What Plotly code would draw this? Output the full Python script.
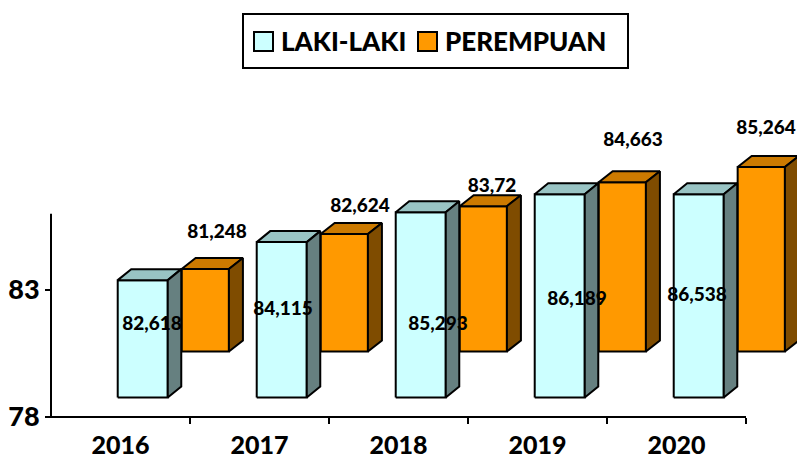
import plotly.graph_objects as go

# ---------------- data ----------------
YEARS = ["2016", "2017", "2018", "2019", "2020"]
LAKI = [82.618, 84.115, 85.293, 86.189, 86.538]
PEREMPUAN = [81.248, 82.624, 83.72, 84.663, 85.264]
LAKI_TEXT = ["82,618", "84,115", "85,293", "86,189", "86,538"]
PEREMPUAN_TEXT = ["81,248", "82,624", "83,72", "84,663", "85,264"]
Y_TICKS = [78, 83]
Y_MIN, Y_MAX = 78, 86

# ---------------- layout geometry ----------------
W, H = 797, 462
L, R, T, B = 48, 0, 100, 42
PLOT_W = W - L - R
PLOT_H = H - T - B
PX_PER_CAT = 139.0
PX_PER_UNIT = 25.4
EPS_X = 3 / PX_PER_CAT
EPS_Y = 3 / PX_PER_UNIT
X_RANGE = [-0.5 - EPS_X, -0.5 - EPS_X + PLOT_W / PX_PER_CAT]
Y_RANGE = [Y_MIN - EPS_Y, Y_MIN - EPS_Y + PLOT_H / PX_PER_UNIT]

FONT = "Lato"
WEIGHT = 900

# pseudo-3D style per series: (left, right) offset from category, base lift, depth
STYLE = {
    "laki": dict(left=-0.02, right=0.34, lift=0.77, dx=13.5 / PX_PER_CAT, dy=11 / PX_PER_UNIT,
                 front="#CCFFFF", top="#99C4C4", side="#668080"),
    "per": dict(left=0.44, right=0.78, lift=2.58, dx=14 / PX_PER_CAT, dy=11 / PX_PER_UNIT,
                front="#FF9900", top="#CC7A00", side="#7F4C00"),
}

# label anchors (layout positions, relative to category index / axis units)
LAKI_LBL_DX = [0.227, 0.169, 0.284, 0.284, 0.147]
LAKI_LBL_Y = [81.62, 82.21, 81.62, 82.61, 82.76]
PER_LBL_DX = [0.694, 0.723, 0.673, 0.687, 0.644]
PER_LBL_Y = [85.24, 86.27, 87.06, 88.87, 89.34]


def bar_faces(values, st):
    fx, fy, tx, ty, sx, sy = [], [], [], [], [], []
    for i, v in enumerate(values):
        x0, x1 = i + st["left"], i + st["right"]
        b = Y_MIN + st["lift"]
        t = min(v, Y_MAX) + st["lift"]
        dx, dy = st["dx"], st["dy"]
        fx += [x0, x1, x1, x0, x0, None]
        fy += [b, b, t, t, b, None]
        tx += [x0, x1, x1 + dx, x0 + dx, x0, None]
        ty += [t, t, t + dy, t + dy, t, None]
        sx += [x1, x1 + dx, x1 + dx, x1, x1, None]
        sy += [b, b + dy, t + dy, t, b, None]
    return (fx, fy), (tx, ty), (sx, sy)


fig = go.Figure()
for key, vals in (("per", PEREMPUAN), ("laki", LAKI)):
    st = STYLE[key]
    front, top, side = bar_faces(vals, st)
    for (xs, ys), col in ((front, st["front"]), (top, st["top"]), (side, st["side"])):
        fig.add_trace(go.Scatter(x=xs, y=ys, mode="lines", fill="toself", fillcolor=col,
                                 line=dict(color="black", width=2), hoverinfo="skip",
                                 showlegend=False))

fig.add_trace(go.Scatter(x=[i + d for i, d in enumerate(LAKI_LBL_DX)], y=LAKI_LBL_Y,
                         mode="text", text=LAKI_TEXT, cliponaxis=False, showlegend=False,
                         textfont=dict(family=FONT, size=19, color="black", weight=WEIGHT)))
fig.add_trace(go.Scatter(x=[i + d for i, d in enumerate(PER_LBL_DX)], y=PER_LBL_Y,
                         mode="text", text=PEREMPUAN_TEXT, cliponaxis=False, showlegend=False,
                         textfont=dict(family=FONT, size=19, color="black", weight=WEIGHT)))

# axis lines
fig.add_shape(type="line", xref="x", yref="y", x0=-0.5, x1=-0.5, y0=Y_MIN, y1=Y_MAX,
              line=dict(color="black", width=2))
fig.add_shape(type="line", xref="x", yref="y", x0=-0.5, x1=len(YEARS) - 0.5, y0=Y_MIN, y1=Y_MIN,
              line=dict(color="black", width=2))


def px_x(p):
    return (p - L) / PLOT_W


def px_y(p):
    return (H - B - p) / PLOT_H


# legend (manual)
fig.add_shape(type="rect", xref="paper", yref="paper", x0=px_x(243), x1=px_x(628),
              y0=px_y(68), y1=px_y(14), line=dict(color="black", width=2), fillcolor="white")
for (x0, col, name) in ((254, STYLE["laki"]["front"], "LAKI-LAKI"),
                        (418, STYLE["per"]["front"], "PEREMPUAN")):
    fig.add_shape(type="rect", xref="paper", yref="paper", x0=px_x(x0), x1=px_x(x0 + 19),
                  y0=px_y(51), y1=px_y(32), line=dict(color="black", width=2), fillcolor=col)
    fig.add_annotation(xref="paper", yref="paper", x=px_x(x0 + 25), y=px_y(41), text=name,
                       showarrow=False, xanchor="left", yanchor="middle",
                       font=dict(family=FONT, size=26, color="black", weight=WEIGHT))

fig.update_layout(
    width=W, height=H, margin=dict(l=L, r=R, t=T, b=B, pad=0, autoexpand=False),
    paper_bgcolor="white", plot_bgcolor="white",
    xaxis=dict(range=X_RANGE, showgrid=False, zeroline=False, showline=False, automargin=False,
               tickvals=list(range(len(YEARS))), ticktext=YEARS, ticks="",
               tickfont=dict(family=FONT, size=25, color="black", weight=WEIGHT),
               ticklabelstandoff=11,
               anchor="free", position=px_y(417),
               minor=dict(tickvals=[i + 0.5 for i in range(len(YEARS))], ticks="outside",
                          ticklen=6, tickwidth=2, tickcolor="black", showgrid=False)),
    yaxis=dict(range=Y_RANGE, showgrid=False, zeroline=False, showline=False, automargin=False,
               tickvals=Y_TICKS, ticks="outside", ticklen=6, tickwidth=2, tickcolor="black",
               tickfont=dict(family=FONT, size=27, color="black", weight=WEIGHT),
               anchor="free", position=px_x(51)),
    showlegend=False,
)

fig.write_html("out.html")
